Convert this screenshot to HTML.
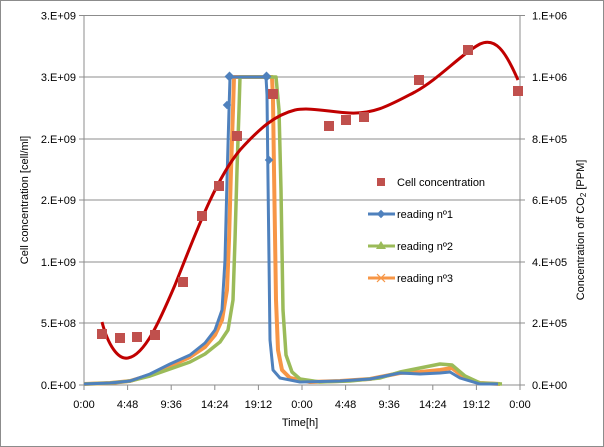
<!DOCTYPE html>
<html><head><meta charset="utf-8"><style>
body{margin:0;background:#fff}
svg{display:block;font-family:"Liberation Sans",sans-serif}
</style></head><body>
<svg width="604" height="447" viewBox="0 0 604 447">
<rect x="0.5" y="0.5" width="603" height="446" fill="#fff" stroke="#8c8c8c"/>
<g stroke="#8c8c8c" stroke-width="1">
<line x1="84" y1="15.5" x2="520" y2="15.5"/>
<line x1="84" y1="77" x2="520" y2="77"/>
<line x1="84" y1="139" x2="520" y2="139"/>
<line x1="84" y1="200" x2="520" y2="200"/>
<line x1="84" y1="262" x2="520" y2="262"/>
<line x1="84" y1="323" x2="520" y2="323"/>
<line x1="84" y1="385" x2="520" y2="385"/>
<line x1="84" y1="15" x2="84" y2="385"/>
<line x1="520" y1="15" x2="520" y2="385"/>
<line x1="127.6" y1="385" x2="127.6" y2="390"/><line x1="171.2" y1="385" x2="171.2" y2="390"/>
<line x1="214.8" y1="385" x2="214.8" y2="390"/><line x1="258.4" y1="385" x2="258.4" y2="390"/>
<line x1="302" y1="385" x2="302" y2="390"/><line x1="345.6" y1="385" x2="345.6" y2="390"/>
<line x1="389.2" y1="385" x2="389.2" y2="390"/><line x1="432.8" y1="385" x2="432.8" y2="390"/>
<line x1="476.4" y1="385" x2="476.4" y2="390"/><line x1="84" y1="385" x2="84" y2="390"/><line x1="520" y1="385" x2="520" y2="390"/>
<line x1="79" y1="15.5" x2="84" y2="15.5"/><line x1="79" y1="77" x2="84" y2="77"/><line x1="79" y1="139" x2="84" y2="139"/><line x1="79" y1="200" x2="84" y2="200"/><line x1="79" y1="262" x2="84" y2="262"/><line x1="79" y1="323" x2="84" y2="323"/><line x1="79" y1="385" x2="84" y2="385"/>
<line x1="520" y1="15.5" x2="525" y2="15.5"/><line x1="520" y1="77" x2="525" y2="77"/><line x1="520" y1="139" x2="525" y2="139"/><line x1="520" y1="200" x2="525" y2="200"/><line x1="520" y1="262" x2="525" y2="262"/><line x1="520" y1="323" x2="525" y2="323"/><line x1="520" y1="385" x2="525" y2="385"/>
</g>
<g font-size="11" fill="#000" text-anchor="end">
<text x="76" y="19.5">3.E+09</text><text x="76" y="81">3.E+09</text><text x="76" y="143">2.E+09</text><text x="76" y="204">2.E+09</text><text x="76" y="266">1.E+09</text><text x="76" y="327">5.E+08</text><text x="76" y="389">0.E+00</text>
</g>
<g font-size="11" fill="#000">
<text x="532" y="19.5">1.E+06</text><text x="532" y="81">1.E+06</text><text x="532" y="143">8.E+05</text><text x="532" y="204">6.E+05</text><text x="532" y="266">4.E+05</text><text x="532" y="327">2.E+05</text><text x="532" y="389">0.E+00</text>
</g>
<g font-size="11" fill="#000" text-anchor="middle">
<text x="84" y="408">0:00</text><text x="127.6" y="408">4:48</text><text x="171.2" y="408">9:36</text><text x="214.8" y="408">14:24</text><text x="258.4" y="408">19:12</text><text x="302" y="408">0:00</text><text x="345.6" y="408">4:48</text><text x="389.2" y="408">9:36</text><text x="432.8" y="408">14:24</text><text x="476.4" y="408">19:12</text><text x="520" y="408">0:00</text>
<text x="300" y="426">Time[h]</text>
<text transform="translate(28,200) rotate(-90)">Cell concentration [cell/ml]</text>
<text transform="translate(584,230) rotate(-90)">Concentration off CO<tspan font-size="8" dy="2">2</tspan><tspan dy="-2"> [PPM]</tspan></text>
</g>
<!-- series -->
<polyline fill="none" stroke="#f79646" stroke-width="4" stroke-linejoin="round" points="84,384 110,383 130,381 150,375 170,366 190,357 205,347 215,335 222,320 227,290 229,240 231,170 233,110 234,77 272,77 273,100 274,170 276,300 278,350 282,370 290,378 310,382 340,381 370,379 400,373 420,372 440,370 452,368 465,378 480,383 500,384"/>
<polyline fill="none" stroke="#9bbb59" stroke-width="3.5" stroke-linejoin="round" points="84,384 110,383 130,381 150,376 170,369 190,362 205,354 220,342 228,330 233,300 235,240 237,170 239,110 240,77 276,77 279,110 281,190 283,310 286,355 292,372 300,379 320,382 350,381 380,378 400,372 420,368 440,364 452,365 465,376 480,383 502,384"/>
<polyline fill="none" stroke="#4f81bd" stroke-width="3" stroke-linejoin="round" points="84,384 110,383 130,381 150,374 170,364 190,355 205,343 215,330 222,310 225,260 227,180 229,110 230,77 266,77 267,95 268,180 270,340 273,370 280,378 300,382 340,381 370,379 400,373 420,374 440,373 450,372 460,378 480,384 498,384"/>
<g fill="#4f81bd"><rect x="226" y="73" width="7" height="7" transform="rotate(45 229.5 76.5)"/><rect x="263" y="73" width="7" height="7" transform="rotate(45 266.5 76.5)"/><rect x="224" y="102" width="6" height="6" transform="rotate(45 227 105)"/><rect x="266" y="157" width="6" height="6" transform="rotate(45 269 160)"/></g>
<path fill="none" stroke="#c00000" stroke-width="3" d="M102,322 C108,345 118,360 128,358 C145,355 160,320 175,285 C195,235 215,180 240,150 C260,128 275,115 295,110 C310,107 330,112 350,113 C375,114 390,105 415,92 C440,78 460,55 480,44 C495,37 505,50 518,80"/>
<g fill="#c0504d">
<rect x="97" y="329" width="10" height="10"/><rect x="115" y="333" width="10" height="10"/><rect x="132" y="332" width="10" height="10"/><rect x="150" y="330" width="10" height="10"/><rect x="178" y="277" width="10" height="10"/><rect x="197" y="211" width="10" height="10"/><rect x="214" y="181" width="10" height="10"/><rect x="232" y="131" width="10" height="10"/><rect x="268" y="89" width="10" height="10"/><rect x="324" y="121" width="10" height="10"/><rect x="341" y="115" width="10" height="10"/><rect x="359" y="112" width="10" height="10"/><rect x="414" y="75" width="10" height="10"/><rect x="463" y="45" width="10" height="10"/><rect x="513" y="86" width="10" height="10"/>
</g>
<!-- legend -->
<rect x="377" y="178" width="8" height="8" fill="#c0504d"/>
<text x="397" y="186" font-size="11">Cell concentration</text>
<line x1="368" y1="214" x2="395" y2="214" stroke="#4f81bd" stroke-width="3"/><rect x="378" y="211" width="6" height="6" fill="#4f81bd" transform="rotate(45 381 214)"/>
<text x="397" y="218" font-size="11">reading nº1</text>
<line x1="368" y1="246" x2="395" y2="246" stroke="#9bbb59" stroke-width="3"/><polygon points="381,241 386,249 376,249" fill="#9bbb59"/>
<text x="397" y="250" font-size="11">reading nº2</text>
<line x1="368" y1="278" x2="395" y2="278" stroke="#f79646" stroke-width="3"/><path d="M377,274 L385,282 M385,274 L377,282" stroke="#f79646" stroke-width="1.2"/>
<text x="397" y="282" font-size="11">reading nº3</text>
</svg>
</body></html>
